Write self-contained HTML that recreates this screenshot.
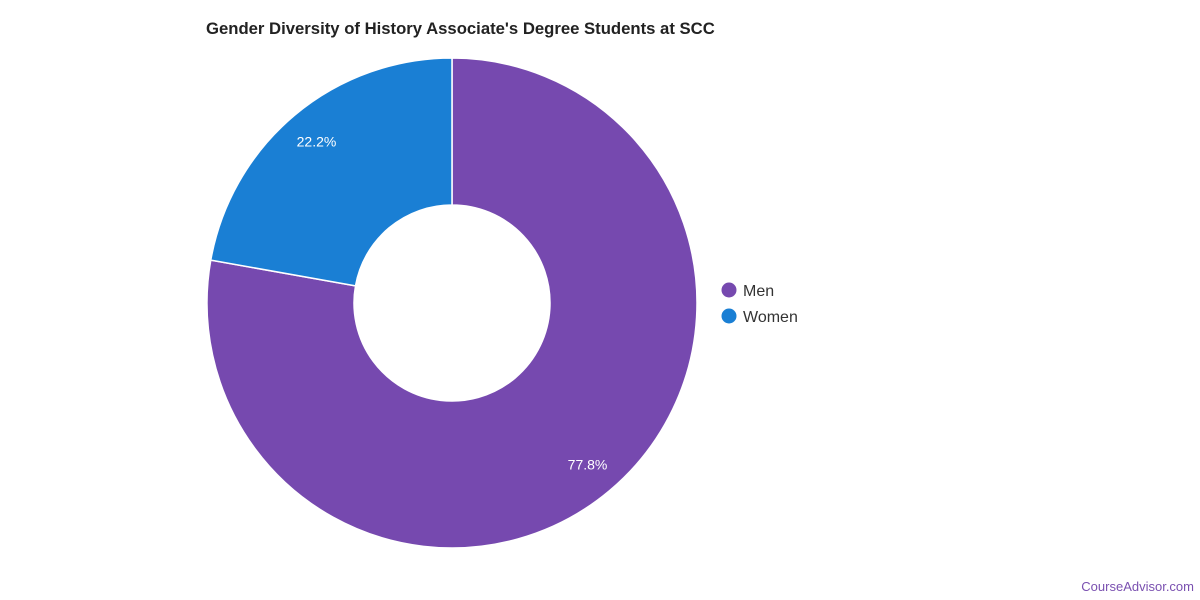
<!DOCTYPE html>
<html><head><meta charset="utf-8"><style>
body{margin:0;background:#fff;font-family:"Liberation Sans",sans-serif;}
svg{display:block}
</style></head><body>
<svg width="1200" height="600" id="c">
<text x="206" y="34" font-size="16.7" font-weight="bold" fill="#222">Gender Diversity of History Associate's Degree Students at SCC</text>
<text x="1194" y="591" font-size="13" fill="#7a50b0" text-anchor="end">CourseAdvisor.com</text>
</svg>
<script>
const categories=["Men","Women"];
const values=[77.8,22.2];
const colors=["#7649af","#1a7fd4"];
const svg=document.getElementById('c');
const NS="http://www.w3.org/2000/svg";
const cx=452,cy=303,R=245,r=98,LR=211;
const total=values.reduce((a,b)=>a+b,0);
let a0=0;
function pt(rad,a){return [cx+rad*Math.sin(a),cy-rad*Math.cos(a)];}
values.forEach((v,i)=>{
  const a1=a0+v/total*2*Math.PI;
  const large=(a1-a0)>Math.PI?1:0;
  const [x0,y0]=pt(R,a0),[x1,y1]=pt(R,a1),[x2,y2]=pt(r,a1),[x3,y3]=pt(r,a0);
  const p=document.createElementNS(NS,'path');
  p.setAttribute('d',`M${x0},${y0}A${R},${R} 0 ${large} 1 ${x1},${y1}L${x2},${y2}A${r},${r} 0 ${large} 0 ${x3},${y3}Z`);
  p.setAttribute('fill',colors[i]);p.setAttribute('stroke','#fff');p.setAttribute('stroke-width','1.5');
  
  
  svg.appendChild(p);
  const [lx,ly]=pt(LR,(a0+a1)/2);
  const t=document.createElementNS(NS,'text');
  t.setAttribute('x',lx);t.setAttribute('y',ly+5);t.setAttribute('text-anchor','middle');
  t.setAttribute('font-size','14');t.setAttribute('fill','#fff');
  t.textContent=v.toFixed(1)+'%';
  
  
  svg.appendChild(t);
  const g=document.createElementNS(NS,'g');
  
  
  const c=document.createElementNS(NS,'circle');
  c.setAttribute('cx',729);c.setAttribute('cy',290+i*26);c.setAttribute('r',7.5);c.setAttribute('fill',colors[i]);
  const lt=document.createElementNS(NS,'text');
  lt.setAttribute('x',743);lt.setAttribute('y',296+i*26);lt.setAttribute('font-size','16');lt.setAttribute('fill','#333');
  lt.textContent=categories[i];
  g.appendChild(c);g.appendChild(lt);svg.appendChild(g);
  a0=a1;
});
</script>
</body></html>
